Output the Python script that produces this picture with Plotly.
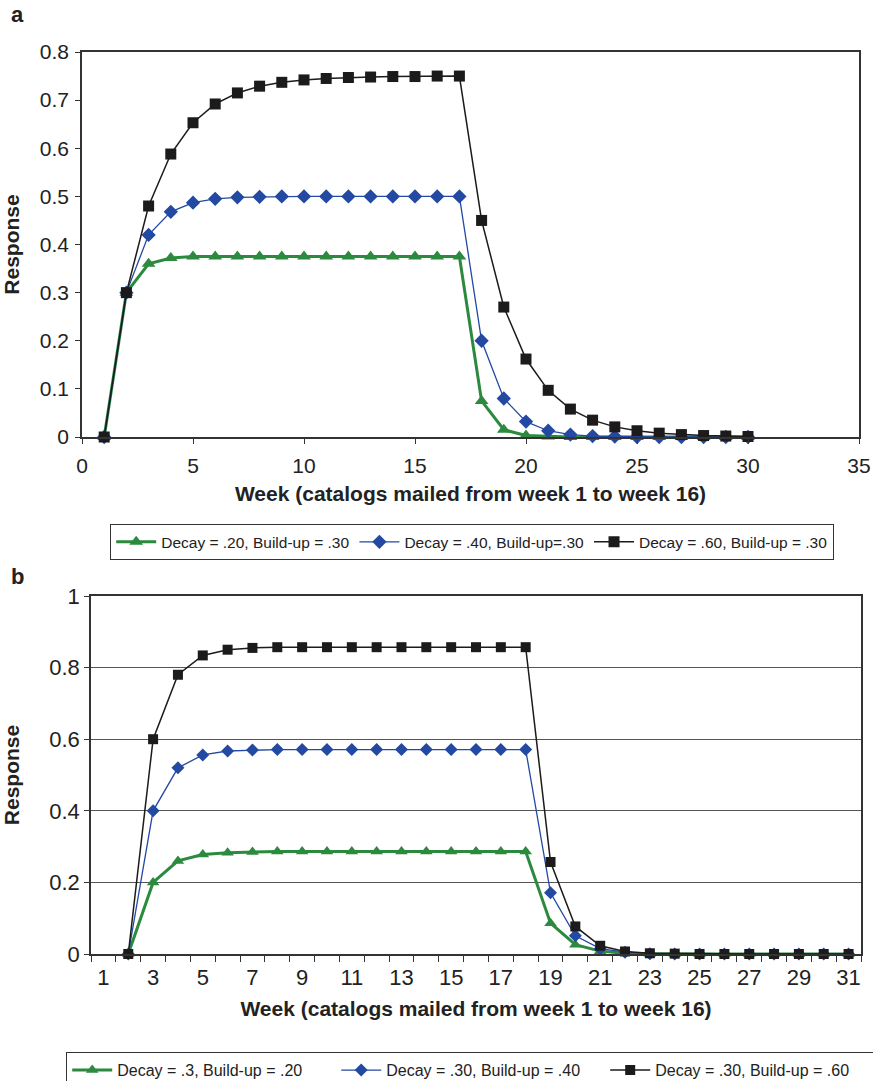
import plotly.graph_objects as go

# the html body margin is removed (see post_script) so the figure fills the page
OFF = 0
W, H = 873 - OFF, 1081 - OFF

# ---------------- Panel a data ----------------
weeks_a = list(range(1, 31))
green_a = [0, 0.30, 0.36, 0.372, 0.375, 0.375, 0.375, 0.375, 0.375, 0.375,
           0.375, 0.375, 0.375, 0.375, 0.375, 0.375, 0.375, 0.075, 0.015, 0.003,
           0.001, 0, 0, 0, 0, 0, 0, 0, 0, 0]
blue_a = [0, 0.30, 0.42, 0.468, 0.487, 0.495, 0.498, 0.499, 0.50, 0.50,
          0.50, 0.50, 0.50, 0.50, 0.50, 0.50, 0.50, 0.20, 0.08, 0.032,
          0.013, 0.005, 0.002, 0.001, 0, 0, 0, 0, 0, 0]
black_a = [0, 0.30, 0.48, 0.588, 0.653, 0.692, 0.715, 0.729, 0.737, 0.742,
           0.745, 0.747, 0.748, 0.749, 0.749, 0.75, 0.75, 0.45, 0.27, 0.162,
           0.097, 0.058, 0.035, 0.021, 0.013, 0.008, 0.005, 0.003, 0.002, 0.001]
names_a = ["Decay = .20, Build-up = .30", "Decay = .40, Build-up=.30",
           "Decay = .60, Build-up = .30"]
xticks_a = [0, 5, 10, 15, 20, 25, 30, 35]

# ---------------- Panel b data ----------------
weeks_b = list(range(2, 32))
green_b = [0, 0.20, 0.26, 0.278, 0.283, 0.285, 0.286, 0.286, 0.286, 0.286,
           0.286, 0.286, 0.286, 0.286, 0.286, 0.286, 0.286, 0.086, 0.026, 0.008,
           0.002, 0.001, 0, 0, 0, 0, 0, 0, 0, 0]
blue_b = [0, 0.40, 0.52, 0.556, 0.567, 0.570, 0.571, 0.571, 0.571, 0.571,
          0.571, 0.571, 0.571, 0.571, 0.571, 0.571, 0.571, 0.171, 0.051, 0.015,
          0.005, 0.001, 0, 0, 0, 0, 0, 0, 0, 0]
black_b = [0, 0.60, 0.78, 0.834, 0.850, 0.855, 0.857, 0.857, 0.857, 0.857,
           0.857, 0.857, 0.857, 0.857, 0.857, 0.857, 0.857, 0.257, 0.077, 0.023,
           0.007, 0.002, 0.001, 0, 0, 0, 0, 0, 0, 0]
names_b = ["Decay = .3, Build-up = .20", "Decay = .30, Build-up = .40",
           "Decay = .30, Build-up = .60"]
xticks_b = [1, 3, 5, 7, 9, 11, 13, 15, 17, 19, 21, 23, 25, 27, 29, 31]
xcat_edges_b = [i + 0.5 for i in range(0, 32)]

GREEN = "#2b8a3e"
BLUE = "#2349a3"
BLACK = "#1c1a1b"
TXT = "#222222"
FONT = "Liberation Sans, Arial, sans-serif"

styles = [
    dict(color=GREEN, width=3, symbol="triangle-up", size=12),
    dict(color=BLUE, width=1.3, symbol="diamond", size=11),
    dict(color=BLACK, width=1.5, symbol="square", size=11),
]

fig = go.Figure()

for ys, name, st in zip([green_a, blue_a, black_a], names_a, styles):
    fig.add_trace(go.Scatter(
        x=weeks_a, y=ys, name=name, mode="lines+markers",
        line=dict(color=st["color"], width=st["width"]),
        marker=dict(symbol=st["symbol"], size=st["size"], color=st["color"]),
        xaxis="x", yaxis="y", legend="legend", cliponaxis=False,
    ))

for ys, name, st in zip([green_b, blue_b, black_b], names_b, styles):
    fig.add_trace(go.Scatter(
        x=weeks_b, y=ys, name=name, mode="lines+markers",
        line=dict(color=st["color"], width=st["width"]),
        marker=dict(symbol=st["symbol"], size=st["size"] - 1, color=st["color"]),
        xaxis="x2", yaxis="y2", legend="legend2", cliponaxis=False,
    ))

def px_x(p):
    return (p - OFF) / W

def px_y(p):
    return 1 - (p - OFF) / H

axis_common = dict(showline=True, linecolor="#333333", linewidth=1.5, mirror=True,
                   zeroline=False, ticks="outside", ticklen=5, tickcolor="#333333",
                   automargin=False)
title_font = dict(family=FONT, size=21, color=TXT)
tick_a = dict(family=FONT, size=21, color=TXT)
tick_b = dict(family=FONT, size=22, color=TXT)

fig.update_layout(
    width=W, height=H,
    margin=dict(l=0, r=0, t=0, b=0, autoexpand=False),
    paper_bgcolor="white", plot_bgcolor="white",
    font=dict(family=FONT, color=TXT),
    xaxis=dict(domain=[px_x(82), px_x(859)], anchor="y", range=[0, 35],
               tickmode="array", tickvals=xticks_a, showgrid=False,
               ticklabelstandoff=4, tickfont=tick_a,
               title=dict(text="<b>Week (catalogs mailed from week 1 to week 16)</b>",
                          font=title_font, standoff=10),
               **axis_common),
    yaxis=dict(domain=[px_y(437), px_y(52)], anchor="x", range=[0, 0.8],
               tickmode="linear", tick0=0, dtick=0.1, showgrid=False,
               ticklabelstandoff=2, tickfont=tick_a,
               title=dict(text="<b>Response</b>", font=title_font, standoff=14),
               **axis_common),
    xaxis2=dict(domain=[px_x(91), px_x(861)], anchor="y2", range=[0.5, 31.5],
                tickmode="array", tickvals=xticks_b, showgrid=False,
                ticklabelstandoff=3, tickfont=tick_b,
                minor=dict(tickmode="array", tickvals=xcat_edges_b, ticks="outside",
                           ticklen=6, tickcolor="#333333", showgrid=False),
                title=dict(text="<b>Week (catalogs mailed from week 1 to week 16)</b>",
                           font=title_font, standoff=12),
                **{**axis_common, "ticks": ""}),
    yaxis2=dict(domain=[px_y(954), px_y(596)], anchor="x2", range=[0, 1],
                tickmode="linear", tick0=0, dtick=0.2, showgrid=True,
                gridcolor="#555555", gridwidth=1,
                ticklabelstandoff=0, tickfont=tick_b,
                title=dict(text="<b>Response</b>", font=title_font, standoff=26),
                **axis_common),
    legend=dict(orientation="h", x=px_x(110), y=px_y(524), xanchor="left", yanchor="top",
                bordercolor="#333333", borderwidth=1.2, bgcolor="white",
                font=dict(family=FONT, size=15.5, color=TXT),
                itemwidth=40, tracegroupgap=0),
    legend2=dict(orientation="h", x=px_x(66), y=px_y(1052), xanchor="left", yanchor="top",
                 bordercolor="#333333", borderwidth=1.2, bgcolor="white",
                 font=dict(family=FONT, size=16, color=TXT),
                 itemwidth=40, entrywidth=214, tracegroupgap=0),
    showlegend=True,
    annotations=[
        dict(text="<b>a</b>", x=px_x(9), y=px_y(15), xref="paper", yref="paper",
             xanchor="left", yanchor="middle", showarrow=False,
             font=dict(family=FONT, size=22, color=TXT)),
        dict(text="<b>b</b>", x=px_x(9), y=px_y(576), xref="paper", yref="paper",
             xanchor="left", yanchor="middle", showarrow=False,
             font=dict(family=FONT, size=22, color=TXT)),
    ],
)

fig.write_html(
    "out.html",
    config={"displayModeBar": False},
    post_script="document.body.style.margin='0';document.body.style.overflow='hidden';",
)
